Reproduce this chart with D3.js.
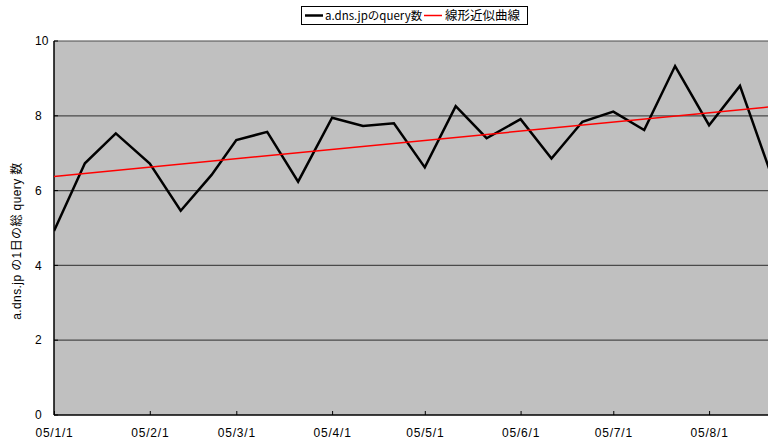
<!DOCTYPE html>
<html><head><meta charset="utf-8">
<script src="https://cdn.jsdelivr.net/npm/d3@7"></script>
<style>body{margin:0;background:#fff}svg{display:block}</style>
</head><body>
<svg id="c" width="768" height="443"></svg>
<script>
const dates = ["2005-01-01","2005-01-11","2005-01-21","2005-02-01","2005-02-11","2005-02-21","2005-03-01","2005-03-11","2005-03-21","2005-04-01","2005-04-11","2005-04-21","2005-05-01","2005-05-11","2005-05-21","2005-06-01","2005-06-11","2005-06-21","2005-07-01","2005-07-11","2005-07-21","2005-08-01","2005-08-11","2005-08-21"];
const queries = [4.92,6.73,7.53,6.72,5.46,6.42,7.35,7.57,6.24,7.95,7.73,7.80,6.62,8.26,7.40,7.91,6.86,7.84,8.11,7.62,9.33,7.75,8.80,6.45];
const trendDates = ["2005-01-01","2005-08-21"];
const trendValues = [6.38,8.24];
const yTicks = [0,2,4,6,8,10];
const seriesNames = ["a.dns.jpのquery数","線形近似曲線"];
const yLabel = "a.dns.jp の1日の総 query 数";

(function(){
const parse = d3.utcParse("%Y-%m-%d");
const svg = d3.select("#c");
const pL = 54, pT = 41, pB = 415, pR = 768;
const x = d3.scaleUtc().domain([parse("2005-01-01"), parse("2005-08-21")]).range([pL, pL + 232*3.09]);
const y = d3.scaleLinear().domain([0,10]).range([pB, pT]);
const font = "'Liberation Sans','Noto Sans CJK JP',sans-serif";

svg.append("defs").append("clipPath").attr("id","clip").append("rect")
  .attr("x",pL).attr("y",pT-5).attr("width",pR-pL).attr("height",pB-pT+5);

svg.append("rect").attr("x",pL).attr("y",pT).attr("width",pR-pL).attr("height",pB-pT).attr("fill","#c0c0c0");

svg.append("g").selectAll("line").data(yTicks.filter(v=>v>0)).join("line")
  .attr("x1",pL).attr("x2",pR).attr("y1",d=>y(d)).attr("y2",d=>y(d))
  .attr("stroke","#4a4a4a").attr("stroke-width",1.2);

const xa = svg.append("g").attr("transform",`translate(0,${pB})`)
  .call(d3.axisBottom(x).ticks(d3.utcMonth.every(1)).tickSizeInner(-4).tickSizeOuter(0).tickPadding(13)
    .tickFormat(d => "05/" + (d.getUTCMonth()+1) + "/1"));
xa.select(".domain").attr("stroke","#000").attr("stroke-width",1.5).attr("d",`M${pL},0H${pR}`);
xa.selectAll(".tick line").attr("stroke","#000");
xa.selectAll("text").attr("font-family",font).attr("font-size",12).attr("letter-spacing","0.8px").attr("fill","#000");

svg.append("line").attr("x1",pL).attr("x2",pL).attr("y1",pT).attr("y2",pB).attr("stroke","#000").attr("stroke-width",1.5);
svg.append("g").selectAll("line").data(yTicks).join("line")
  .attr("x1",pL).attr("x2",pL+4).attr("y1",d=>y(d)).attr("y2",d=>y(d)).attr("stroke","#000");
svg.append("g").selectAll("text").data(yTicks).join("text")
  .attr("x",35).attr("y",d=>y(d)).attr("dy","0.35em")
  .attr("font-family",font).attr("font-size",12).attr("fill","#000").text(d=>d);

svg.append("text").attr("transform","translate(17,241) rotate(-90)").attr("text-anchor","middle")
  .attr("dy","0.35em").attr("font-family",font).attr("font-size",12).attr("letter-spacing","0.4px").attr("fill","#000").text(yLabel);

const g = svg.append("g").attr("clip-path","url(#clip)");
const line = d3.line().x(d=>x(d[0])).y(d=>y(d[1]));
g.append("path").datum(dates.map((d,i)=>[parse(d),queries[i]]))
  .attr("d",line).attr("fill","none").attr("stroke","#000").attr("stroke-width",2.5).attr("stroke-linejoin","miter");
g.append("path").datum(trendDates.map((d,i)=>[parse(d),trendValues[i]]))
  .attr("d",line).attr("fill","none").attr("stroke","#ff0000").attr("stroke-width",1.5);

const lg = svg.append("g");
lg.append("rect").attr("x",301.5).attr("y",6.5).attr("width",226).attr("height",18).attr("fill","#fff").attr("stroke","#000");
lg.append("line").attr("x1",305).attr("x2",323).attr("y1",15.5).attr("y2",15.5).attr("stroke","#000").attr("stroke-width",2.5);
lg.append("text").attr("x",325).attr("y",15.5).attr("dy","0.35em").attr("font-family","'Noto Sans CJK JP',sans-serif").attr("font-size",11.5).text(seriesNames[0]);
lg.append("line").attr("x1",424).attr("x2",442).attr("y1",15.5).attr("y2",15.5).attr("stroke","#ff0000").attr("stroke-width",1.5);
lg.append("text").attr("x",445).attr("y",15.5).attr("dy","0.35em").attr("font-family","'Noto Sans CJK JP',sans-serif").attr("font-size",12.5).text(seriesNames[1]);
})();
</script>
</body></html>
